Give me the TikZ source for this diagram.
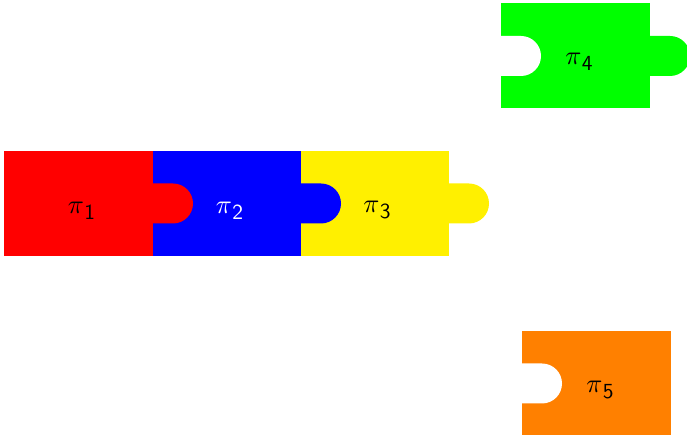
\documentclass[tikz,border=0pt]{standalone}
\definecolor{pred}{RGB}{255,0,0}
\definecolor{pblue}{RGB}{0,0,255}
\definecolor{pyellow}{RGB}{255,240,0}
\definecolor{pgreen}{RGB}{0,255,0}
\definecolor{porange}{RGB}{255,128,0}
\newcommand{\piecelabel}[1]{\scalebox{2.65}{$\pi$}\kern0.3pt\raisebox{-6pt}{\scalebox{2.15}{\sffamily #1}}}
\begin{document}
\begin{tikzpicture}[x=1pt,y=1pt,
  lbl/.style={inner sep=0pt},
]
\useasboundingbox (0,0) rectangle (687,435);
% bodies
\fill[pred]    (4,179)   rectangle (153,284);
\fill[pblue]   (153,179) rectangle (301,284);
\fill[pyellow] (301,179) rectangle (449,284);
\fill[pgreen]  (501,327) rectangle (650,432);
\fill[porange] (522,-2)  rectangle (671,104);
% slots (white)
\fill[white] (501,359) -- (521,359) arc[start angle=-90,end angle=90,radius=20] -- (501,399) -- cycle;
\fill[white] (522,31.5) -- (542,31.5) arc[start angle=-90,end angle=90,radius=20] -- (522,71.5) -- cycle;
% tabs
\fill[pred]    (153,211.5) -- (173,211.5) arc[start angle=-90,end angle=90,radius=20] -- (153,251.5) -- cycle;
\fill[pblue]   (301,211.5) -- (321,211.5) arc[start angle=-90,end angle=90,radius=20] -- (301,251.5) -- cycle;
\fill[pyellow] (449,211.5) -- (469,211.5) arc[start angle=-90,end angle=90,radius=20] -- (449,251.5) -- cycle;
\fill[pgreen]  (650,359) -- (670,359) arc[start angle=-90,end angle=90,radius=20] -- (650,399) -- cycle;
% labels
\node[lbl] (p1) at (81.5,224.5) {\piecelabel{1}};
\node[lbl,text=white] (p2) at (229.5,224.5) {\piecelabel{2}};
\node[lbl] (p3) at (377,224.5) {\piecelabel{3}};
\node[lbl] (p4) at (579,373) {\piecelabel{4}};
\node[lbl] (p5) at (600,44.5) {\piecelabel{5}};
\end{tikzpicture}
\end{document}
